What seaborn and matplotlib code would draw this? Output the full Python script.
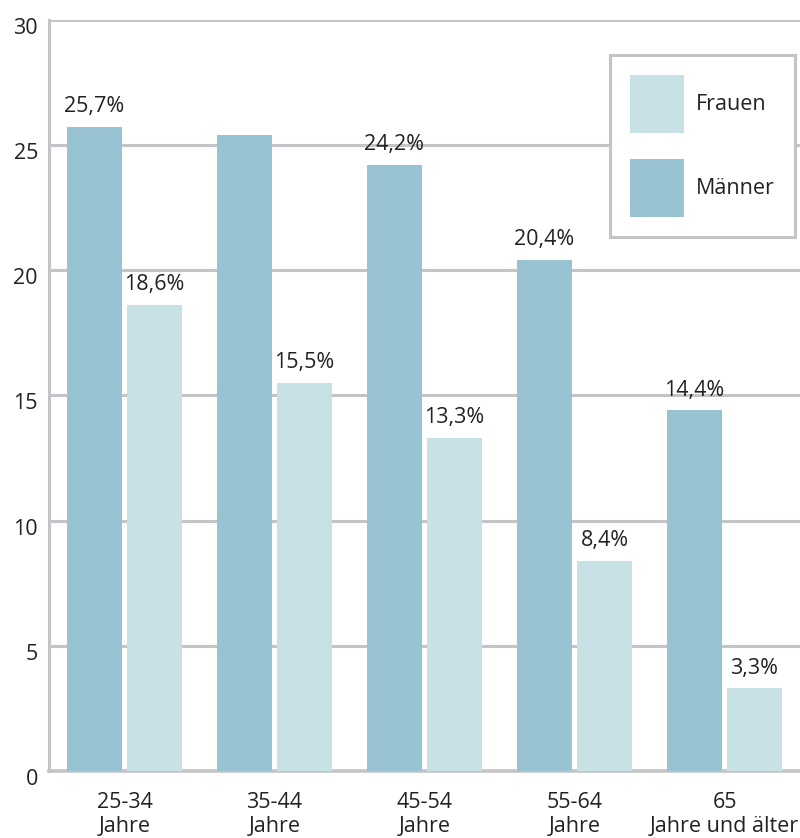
import matplotlib
matplotlib.use("Agg")
import matplotlib.pyplot as plt
from matplotlib.patches import Patch
from matplotlib.transforms import ScaledTranslation
import seaborn as sns
import pandas as pd

# Altersgruppen und Anteile (in %)
categories = ["25-34\nJahre", "35-44\nJahre", "45-54\nJahre", "55-64\nJahre", "65\nJahre und älter"]
maenner = [25.7, 25.4, 24.2, 20.4, 14.4]
frauen = [18.6, 15.5, 13.3, 8.4, 3.3]
maenner_labels = ["25,7%", "", "24,2%", "20,4%", "14,4%"]
frauen_labels = ["18,6%", "15,5%", "13,3%", "8,4%", "3,3%"]
y_ticks = [0, 5, 10, 15, 20, 25, 30]

col_m = "#97c3d2"
col_f = "#c8e1e5"
grid_col = "#c4c4c8"
text_col = "#222222"
fs = 15.5

sns.set_theme(style="white")
plt.rcParams["font.family"] = ["Open Sans", "DejaVu Sans"]

df = pd.DataFrame({
    "Gruppe": categories * 2,
    "Geschlecht": ["Männer"] * len(categories) + ["Frauen"] * len(categories),
    "Wert": maenner + frauen,
})

W, H = 800, 838
ax_l, ax_r, ax_t, ax_b = 49, 800, 19.5, 771
fig = plt.figure(figsize=(W / 100, H / 100), dpi=100)
ax = fig.add_axes([ax_l / W, (H - ax_b) / H, (ax_r - ax_l) / W, (ax_b - ax_t) / H])

sns.barplot(data=df, x="Gruppe", y="Wert", hue="Geschlecht",
            hue_order=["Männer", "Frauen"], order=categories,
            palette={"Männer": col_m, "Frauen": col_f},
            width=0.8, gap=0.083, saturation=1, linewidth=0,
            ax=ax, legend=False, zorder=3)

ax.set_ylim(0, 30)
ax.set_xlim(-0.503, 4.503)
ax.set_yticks(y_ticks)
ax.set_yticklabels([str(t) for t in y_ticks], fontsize=fs, color=text_col)
ax.tick_params(axis="y", length=0, pad=8)
ax.tick_params(axis="x", length=0, pad=15, labelsize=fs, labelcolor=text_col)
ax.set_xlabel("")
ax.set_ylabel("")

# y-Beschriftungen sitzen etwas unterhalb der Gitterlinien
shift = ScaledTranslation(0, -6 / 100, fig.dpi_scale_trans)
for lbl in ax.get_yticklabels():
    lbl.set_transform(lbl.get_transform() + shift)

ax.yaxis.grid(True, color=grid_col, linewidth=2.2, zorder=0)
ax.set_axisbelow(True)
for side in ["top", "right"]:
    ax.spines[side].set_visible(False)
ax.spines["left"].set_color(grid_col)
ax.spines["left"].set_linewidth(2.2)
ax.spines["bottom"].set_color(grid_col)
ax.spines["bottom"].set_linewidth(2.6)

for cont, labels in zip(ax.containers, [maenner_labels, frauen_labels]):
    ax.bar_label(cont, labels=labels, padding=7, fontsize=fs, color=text_col)

handles = [Patch(facecolor=col_f, edgecolor="none", label="Frauen"),
           Patch(facecolor=col_m, edgecolor="none", label="Männer")]
leg = ax.legend(handles=handles, loc="upper right",
                bbox_to_anchor=((795 - ax_l) / (ax_r - ax_l), 1 - (55 - ax_t) / (ax_b - ax_t)),
                frameon=True, fancybox=False, fontsize=fs, labelcolor=text_col,
                handlelength=2.5, handleheight=3.75, labelspacing=1.2,
                borderpad=0.95, handletextpad=0.55, borderaxespad=0)
frame = leg.get_frame()
frame.set_edgecolor(grid_col)
frame.set_linewidth(2.2)
frame.set_facecolor("white")
frame.set_alpha(1)

fig.savefig("out.png", dpi=100, facecolor="white")
